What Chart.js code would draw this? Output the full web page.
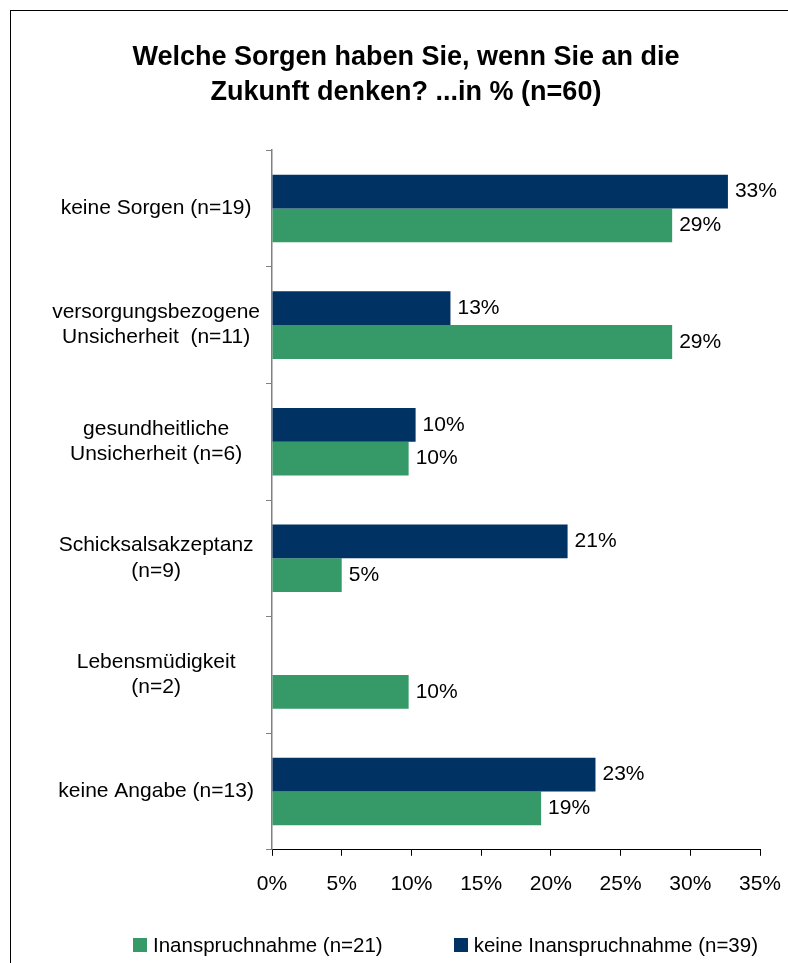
<!DOCTYPE html>
<html lang="de">
<head>
<meta charset="utf-8">
<script src="https://cdn.jsdelivr.net/npm/chart.js@4.4.1/dist/chart.umd.min.js"></script>
<style>
  html, body { margin: 0; padding: 0; background: #fff; }
  #wrap { position: relative; width: 788px; height: 963px; overflow: hidden; font-family: "Liberation Sans", Arial, sans-serif; }
  #frame { position: absolute; left: 10px; top: 10px; width: 900px; height: 1000px; border: 1px solid #000; }
  #chart { position: absolute; left: 0; top: 0; }
  #legend { position: absolute; top: 933px; left: 133px; display: flex; font-size: 20.5px; color: #000; white-space: nowrap; }
  .legend-item { display: flex; align-items: center; margin-right: 71px; }
  .legend-box { width: 14px; height: 14px; margin-right: 6px; }
</style>
</head>
<body>
<div id="wrap">
  <div id="frame"></div>
  <canvas id="chart" width="788" height="963"></canvas>
  <div id="legend"></div>
</div>
<script>
const categories = [
  ["keine Sorgen (n=19)"],
  ["versorgungsbezogene", "Unsicherheit  (n=11)"],
  ["gesundheitliche", "Unsicherheit (n=6)"],
  ["Schicksalsakzeptanz", "(n=9)"],
  ["Lebensmüdigkeit", "(n=2)"],
  ["keine Angabe (n=13)"],
];

// percent values
const keineInanspruchnahme = [32.7, 12.8, 10.3, 21.2, null, 23.2];
const inanspruchnahme = [28.7, 28.7, 9.8, 5.0, 9.8, 19.3];

const xTicks = [0, 5, 10, 15, 20, 25, 30, 35];

const titleLines = ["Welche Sorgen haben Sie, wenn Sie an die", "Zukunft denken? ...in % (n=60)"];

const FONT = "'Liberation Sans', Arial, sans-serif";

const datasets = [
  {
    label: "keine Inanspruchnahme (n=39)",
    data: keineInanspruchnahme,
    backgroundColor: "#003363",
  },
  {
    label: "Inanspruchnahme (n=21)",
    data: inanspruchnahme,
    backgroundColor: "#359a68",
  },
];

const barValueLabels = {
  id: "barValueLabels",
  afterDatasetsDraw(chart) {
    const { ctx } = chart;
    ctx.save();
    ctx.font = `21px ${FONT}`;
    ctx.fillStyle = "#000";
    ctx.textBaseline = "middle";
    ctx.textAlign = "left";
    chart.data.datasets.forEach((ds, i) => {
      chart.getDatasetMeta(i).data.forEach((bar, j) => {
        const v = ds.data[j];
        if (v == null) return;
        ctx.fillText(`${Math.round(v)}%`, bar.x + 7, bar.y);
      });
    });
    ctx.restore();
  },
};

function buildLegend() {
  const legend = document.getElementById("legend");
  // reference legend lists green first
  legend.innerHTML = datasets
    .slice()
    .reverse()
    .map(
      (ds) => `
      <div class="legend-item">
        <span class="legend-box" style="background:${ds.backgroundColor}"></span>
        <span>${ds.label}</span>
      </div>`,
    )
    .join("");
}

function buildChart() {
  new Chart(document.getElementById("chart"), {
    type: "bar",
    data: {
      labels: categories,
      datasets: datasets.map((ds) => ({
        ...ds,
        categoryPercentage: 0.58,
        barPercentage: 1.0,
      })),
    },
    options: {
      indexAxis: "y",
      responsive: false,
      animation: false,
      layout: { padding: { left: 32, right: 8, top: 0, bottom: 50 } },
      plugins: {
        legend: { display: false },
        tooltip: { enabled: false },
        title: {
          display: true,
          text: titleLines,
          color: "#000",
          font: { family: FONT, size: 27, weight: "bold", lineHeight: 1.3 },
          padding: { top: 40, bottom: 40 },
        },
      },
      scales: {
        x: {
          min: 0,
          max: 35,
          afterBuildTicks: (scale) => {
            scale.ticks = xTicks.map((v) => ({ value: v }));
          },
          afterFit: (scale) => {
            // keep the 35% tick where the reference has it
            scale.paddingRight = 28;
          },
          ticks: {
            color: "#000",
            font: { family: FONT, size: 21 },
            padding: 16,
            maxRotation: 0,
            callback: (value) => `${value}%`,
          },
          grid: { drawOnChartArea: false, drawTicks: true, tickLength: 6, color: "#000" },
          border: { display: true, color: "#000", width: 1 },
        },
        y: {
          afterFit: (scale) => {
            scale.width = 240;
          },
          ticks: {
            color: "#000",
            font: { family: FONT, size: 21 },
            crossAlign: "center",
            padding: 6,
          },
          grid: { drawOnChartArea: false, drawTicks: true, tickLength: 6, color: "#808080", offset: true },
          border: { display: true, color: "#808080", width: 1.5 },
        },
      },
    },
    plugins: [barValueLabels],
  });
}

buildLegend();
buildChart();
</script>
</body>
</html>
